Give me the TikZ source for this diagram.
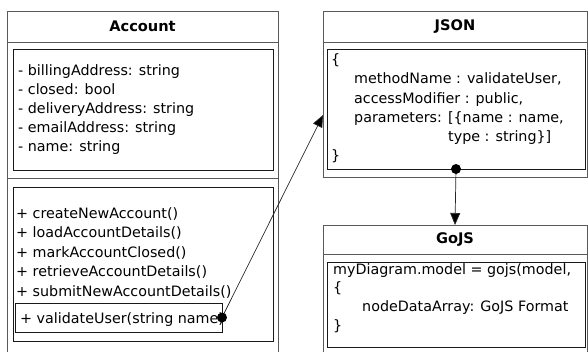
\documentclass[tikz,border=0pt]{standalone}
\usepackage{fontspec}
\setmainfont{DejaVu Sans}
\usetikzlibrary{arrows.meta}
\begin{document}
\begin{tikzpicture}[x=1pt,y=-1pt,
  outerbox/.style={draw=black!65, line width=0.9pt, inner sep=0pt, outer sep=0pt, anchor=north west},
  innerbox/.style={draw=black!90, line width=0.95pt, inner sep=0pt, outer sep=0pt, anchor=north west},
  rule/.style={draw=black!65, line width=0.9pt},
  title/.style={font=\bfseries\fontsize{14.6}{17}\selectfont, inner sep=0pt},
  txt/.style={font=\fontsize{14.3}{17}\selectfont, inner sep=0pt, anchor=base west},
  link/.style={draw=black!85, line width=0.7pt, -{Triangle[length=12pt,width=10pt,fill=black]}},
  dot/.style={circle, fill=black, inner sep=0pt, minimum size=10pt}]
\useasboundingbox (0,0) rectangle (588,351);
\clip (0,0) rectangle (588,351);

% ---------- Account class ----------
\node[outerbox, minimum width=271pt, minimum height=360pt] (acc) at (7,11) {};
\draw[rule] (7,42) -- (278,42);
\draw[rule] (7,178) -- (278,178);
\node[title] (acctitle) at (142.5,26.5) {Account};
\node[innerbox, minimum width=260pt, minimum height=121pt] (accattr) at (13,49) {};
\node[innerbox, minimum width=260pt, minimum height=154pt] (accops) at (13,187) {};
\node[innerbox, minimum width=207pt, minimum height=29pt] (valid) at (15,303) {};

\foreach \t [count=\i from 0] in {- billingAddress: string, - closed: bool,
    - deliveryAddress: string, - emailAddress: string, - name: string}
  \node[txt] (attr\i) at (18,75+19.2*\i) {\t};

\foreach \t [count=\i from 0] in {+ createNewAccount(), + loadAccountDetails(),
    + markAccountClosed(), + retrieveAccountDetails(), + submitNewAccountDetails()}
  \node[txt] (op\i) at (16,218+19.6*\i) {\t};
\node[txt] (opvalid) at (20,323) {+ validateUser(string name)};

% ---------- JSON ----------
\node[outerbox, minimum width=264pt, minimum height=166pt] (json) at (323,11) {};
\draw[rule] (323,42) -- (587,42);
\node[title] (jsontitle) at (455,26.5) {JSON};
\node[innerbox, minimum width=258pt, minimum height=120pt] (jsonbody) at (327,49) {};
\node[txt] (j0) at (331,64) {\{};
\node[txt] (j1) at (354,83) {methodName : validateUser,};
\node[txt] (j2) at (354,103) {accessModifier : public,};
\node[txt] (j3) at (354,122) {parameters: [\{name : name,};
\node[txt] (j4) at (448,141) {type : string\}]};
\node[txt] (j5) at (331,160) {\}};

% ---------- GoJS ----------
\node[outerbox, minimum width=264pt, minimum height=140pt] (gojs) at (323,225) {};
\draw[rule] (323,254) -- (587,254);
\node[title] (gojstitle) at (455,239.5) {GoJS};
\node[innerbox, minimum width=258pt, minimum height=85pt] (gojsbody) at (327,262) {};
\node[txt] (g0) at (333,274) {myDiagram.model = gojs(model,};
\node[txt] (g1) at (333,292) {\{};
\node[txt] (g2) at (362,311) {nodeDataArray: GoJS Format};
\node[txt] (g3) at (333,330) {\}};

% ---------- connectors ----------
\coordinate (jsonin) at ([yshift=-21pt]json.west);
\draw[link] (valid.east) -- (jsonin);
\node[dot] (validdot) at (valid.east) {};
\draw[link] (jsonbody.south) -- (gojs.north);
\node[dot] (jsondot) at (jsonbody.south) {};
\end{tikzpicture}
\end{document}
